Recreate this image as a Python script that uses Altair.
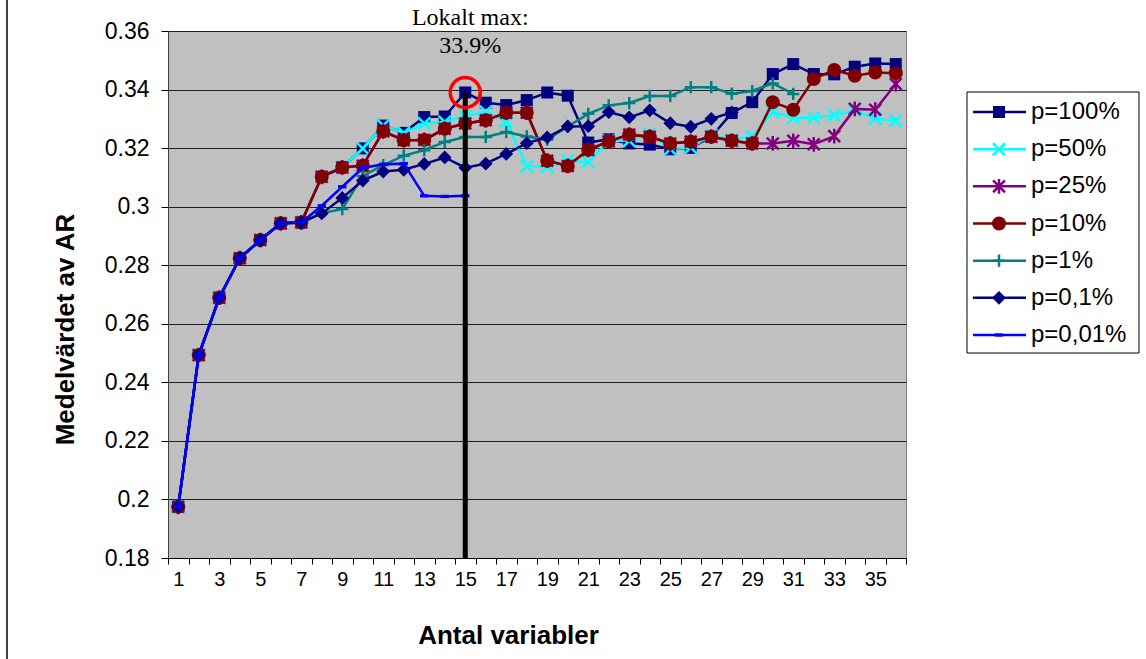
import altair as alt
import pandas as pd

# Number of variables on the x axis
n_vars = list(range(1, 37))

series_names = ["p=100%", "p=50%", "p=25%", "p=10%", "p=1%", "p=0,1%", "p=0,01%"]

# Mean AR per number of variables, one list per p-threshold (None = not computed)
p100 = [0.1975, 0.2493, 0.2689, 0.2824, 0.2886, 0.2943, 0.2946, 0.3102, 0.3134, 0.3199,
        0.3277, 0.3252, 0.3306, 0.3308, 0.3390, 0.3355, 0.3347, 0.3364, 0.3390, 0.3379,
        0.3219, 0.3230, 0.3216, 0.3212, 0.3196, 0.3201, 0.3239, 0.3320, 0.3357, 0.3453,
        0.3487, 0.3453, 0.3452, 0.3478, 0.3489, 0.3487]
p50 = [0.1975, 0.2493, 0.2689, 0.2824, 0.2886, 0.2943, 0.2946, 0.3102, 0.3134, 0.3199,
       0.3277, 0.3252, 0.3284, 0.3289, 0.3310, 0.3324, 0.3290, 0.3137, 0.3137, 0.3157,
       0.3152, 0.3225, 0.3225, 0.3250, 0.3197, 0.3202, 0.3245, 0.3229, 0.3240, 0.3323,
       0.3304, 0.3304, 0.3312, 0.3329, 0.3301, 0.3293]
p25 = [0.1975, 0.2493, 0.2689, 0.2824, 0.2886, 0.2943, 0.2946, 0.3102, 0.3134, 0.3140,
       0.3257, 0.3227, 0.3228, 0.3266, 0.3284, 0.3295, 0.3321, 0.3321, 0.3157, 0.3139,
       0.3194, 0.3223, 0.3246, 0.3239, 0.3216, 0.3222, 0.3239, 0.3225, 0.3216, 0.3216,
       0.3225, 0.3213, 0.3241, 0.3334, 0.3331, 0.3419]
p10 = [0.1975, 0.2493, 0.2689, 0.2824, 0.2886, 0.2943, 0.2946, 0.3102, 0.3134, 0.3140,
       0.3257, 0.3227, 0.3228, 0.3266, 0.3284, 0.3295, 0.3321, 0.3321, 0.3157, 0.3139,
       0.3194, 0.3223, 0.3246, 0.3239, 0.3216, 0.3222, 0.3239, 0.3225, 0.3216, 0.3357,
       0.3331, 0.3436, 0.3467, 0.3447, 0.3458, 0.3456]
p1 = [0.1975, 0.2493, 0.2689, 0.2824, 0.2886, 0.2943, 0.2946, 0.2978, 0.2992, 0.3105,
      0.3142, 0.3174, 0.3193, 0.3221, 0.3238, 0.3238, 0.3255, 0.3240, 0.3229, 0.3274,
      0.3317, 0.3346, 0.3354, 0.3378, 0.3378, 0.3408, 0.3408, 0.3386, 0.3395, 0.3421,
      0.3385, None, None, None, None, None]
p01 = [0.1975, 0.2493, 0.2689, 0.2824, 0.2886, 0.2943, 0.2946, 0.2977, 0.3030, 0.3089,
       0.3120, 0.3126, 0.3146, 0.3168, 0.3133, 0.3147, 0.3180, 0.3217, 0.3237, 0.3274,
       0.3275, 0.3323, 0.3305, 0.3329, 0.3285, 0.3273, 0.3300, 0.3322, None, None,
       None, None, None, None, None, None]
p001 = [0.1975, 0.2493, 0.2689, 0.2824, 0.2886, 0.2943, 0.2946, 0.3003, 0.3068, 0.3132,
        0.3145, 0.3147, 0.3037, 0.3035, 0.3037, None, None, None, None, None,
        None, None, None, None, None, None, None, None, None, None,
        None, None, None, None, None, None]

y_ticks = [0.18, 0.20, 0.22, 0.24, 0.26, 0.28, 0.30, 0.32, 0.34, 0.36]

# Marker styling per series: colour, shape, size, filled
X_PATH = "M-1,-1L1,1M-1,1L1,-1"
STAR_PATH = "M-1,-1L1,1M-1,1L1,-1M0,-1.25L0,1.25"
PLUS_PATH = "M-1,0L1,0M0,-1L0,1"
DASH_PATH = "M-1,-0.4H1V0.4H-1Z"
styles = {
    "p=100%": dict(color="#000080", shape="square", size=144, filled=True),
    "p=50%": dict(color="#00FFFF", shape=X_PATH, size=150, filled=False),
    "p=25%": dict(color="#800080", shape=STAR_PATH, size=140, filled=False),
    "p=10%": dict(color="#800000", shape="circle", size=196, filled=True),
    "p=1%": dict(color="#008080", shape=PLUS_PATH, size=150, filled=False),
    "p=0,1%": dict(color="#000080", shape="diamond", size=190, filled=True),
    "p=0,01%": dict(color="#0000FF", shape=DASH_PATH, size=70, filled=True),
}

values = [p100, p50, p25, p10, p1, p01, p001]
rows = []
for name, vals in zip(series_names, values):
    for n, v in zip(n_vars, vals):
        if v is not None:
            rows.append({"series": name, "n": n, "v": v})
df = pd.DataFrame(rows)

SANS = "Liberation Sans, Arial, sans-serif"
NARROW = "Liberation Sans Narrow, Arial Narrow, Liberation Sans, sans-serif"
SERIF = "Liberation Serif, Times New Roman, serif"

x_enc = alt.X(
    "n:O",
    scale=alt.Scale(type="band", domain=n_vars, paddingInner=0, paddingOuter=0),
    axis=alt.Axis(
        title="Antal variabler", labelAngle=0, tickBand="extent", grid=False,
        labelExpr="datum.value % 2 == 1 ? datum.label : ''",
        tickSize=6, tickColor="#000000", domainColor="#000000",
        labelFont=NARROW, labelFontSize=20, labelColor="#000000", labelPadding=5,
        titleFont=SANS, titleFontSize=26, titleFontWeight="bold", titleColor="#000000",
        titleX=340, titleY=77, titleBaseline="middle", titleAlign="center",
    ),
)
y_enc = alt.Y(
    "v:Q",
    scale=alt.Scale(domain=[0.18, 0.36], nice=False, zero=False),
    axis=alt.Axis(
        title="Medelvärdet av AR", values=y_ticks, format=".2~f", grid=True,
        gridColor="#202020", gridWidth=1, tickSize=7, tickColor="#000000",
        domainColor="#404040", labelFont=SANS, labelFontSize=23, labelColor="#000000",
        labelPadding=12, titleFont=SANS, titleFontSize=26, titleFontWeight="bold",
        titleColor="#000000", titleX=-103, titleY=298, titleBaseline="middle",
        titleAlign="center", titleAngle=270,
    ),
)

layers = []
for name in series_names:
    st = styles[name]
    sub = alt.Chart(df).transform_filter(alt.datum.series == name)
    layers.append(sub.mark_line(color=st["color"], strokeWidth=2.5).encode(x=x_enc, y=y_enc))
    if st["filled"]:
        pt = sub.mark_point(shape=st["shape"], size=st["size"], filled=True,
                            fill=st["color"], opacity=1, strokeWidth=0)
    else:
        pt = sub.mark_point(shape=st["shape"], size=st["size"], filled=False,
                            color=st["color"], opacity=1, strokeWidth=2.5)
    layers.append(pt.encode(x=x_enc, y=y_enc))

# Local maximum of the p=100% series, marked and labelled
peak_n = 15
peak_v = p100[n_vars.index(peak_n)]
peak_df = pd.DataFrame({"n": [peak_n], "v": [peak_v], "v0": [0.18],
                        "head": ["Lokalt max:"], "label": [f"{peak_v:.1%}"]})
peak = alt.Chart(peak_df)
layers.append(peak.mark_rule(color="#000000", strokeWidth=5).encode(x=x_enc, y=y_enc, y2="v0:Q"))
layers.append(peak.mark_point(shape="circle", size=900, filled=False, color="#FF0000",
                              strokeWidth=3.5, opacity=1).encode(x=x_enc, y=y_enc))
layers.append(peak.mark_text(font=SERIF, fontSize=24, dy=-74, dx=5, color="#000000")
              .encode(x=x_enc, y=y_enc, text="head:N"))
layers.append(peak.mark_text(font=SERIF, fontSize=24, dy=-46, dx=5, color="#000000")
              .encode(x=x_enc, y=y_enc, text="label:N"))

main = alt.layer(*layers)

# Legend box with line + marker samples
leg_df = pd.DataFrame({"series": series_names})
leg_y = alt.Y("series:N", scale=alt.Scale(type="point", domain=series_names,
                                          range=[81, 304], padding=0), axis=None)
leg_layers = [
    alt.Chart(leg_df.head(1)).mark_rect(fill="#FFFFFF", stroke="#000000", strokeWidth=1)
    .encode(x=alt.value(799), x2=alt.value(971), y=alt.value(61), y2=alt.value(322)),
    alt.Chart(leg_df.head(1)).mark_rule(color="#000000", strokeWidth=1.5)
    .encode(x=alt.value(-161), y=alt.value(-31), y2=alt.value(640)),
]
for name in series_names:
    st = styles[name]
    sub = alt.Chart(leg_df).transform_filter(alt.datum.series == name)
    leg_layers.append(sub.mark_rule(color=st["color"], strokeWidth=2.5)
                      .encode(x=alt.value(805), x2=alt.value(858), y=leg_y))
    if st["filled"]:
        pt = sub.mark_point(shape=st["shape"], size=st["size"], filled=True,
                            fill=st["color"], opacity=1, strokeWidth=0)
    else:
        pt = sub.mark_point(shape=st["shape"], size=st["size"], filled=False,
                            color=st["color"], opacity=1, strokeWidth=2.5)
    leg_layers.append(pt.encode(x=alt.value(831), y=leg_y))
leg_layers.append(alt.Chart(leg_df).mark_text(align="left", baseline="middle", font=SANS,
                                              fontSize=24, color="#000000")
                  .encode(x=alt.value(863), y=leg_y, text="series:N"))
legend = alt.layer(*leg_layers)

chart = (
    alt.layer(main, legend)
    .resolve_scale(y="independent")
    .properties(
        width=738, height=527,
        padding={"left": 168, "top": 31, "right": 240, "bottom": 101},
        autosize=alt.AutoSizeParams(type="none"),
        background="#FFFFFF",
    )
    .configure_view(fill="#C0C0C0", stroke="#808080", strokeWidth=1)
)

chart.save("out.html", embed_options={"renderer": "svg", "actions": False})
